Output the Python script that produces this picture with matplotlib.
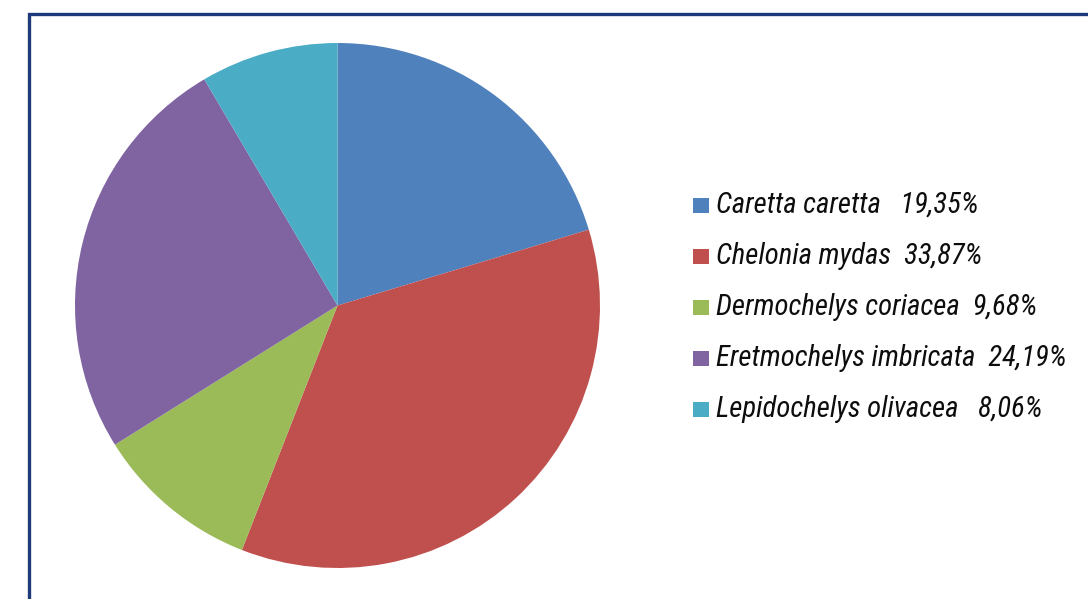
import matplotlib
matplotlib.use("Agg")
import matplotlib.pyplot as plt
from matplotlib.patches import Rectangle

species = ["Caretta caretta", "Chelonia mydas", "Dermochelys coriacea",
           "Eretmochelys imbricata", "Lepidochelys olivacea"]
percent = [19.35, 33.87, 9.68, 24.19, 8.06]
label_text = ["Caretta caretta   19,35%", "Chelonia mydas  33,87%",
              "Dermochelys coriacea  9,68%", "Eretmochelys imbricata  24,19%",
              "Lepidochelys olivacea   8,06%"]
colors = ["#4F81BD", "#C0504D", "#9BBB59", "#8064A2", "#4BACC6"]

W, H = 1088, 599
fig = plt.figure(figsize=(W / 100, H / 100), dpi=100)
fig.patch.set_facecolor("white")

# frame border (extends off right and bottom)
border_ax = fig.add_axes([0, 0, 1, 1])
border_ax.set_xlim(0, W)
border_ax.set_ylim(H, 0)
border_ax.axis("off")
border_ax.plot([28.5, 28.5, W + 5], [H + 5, 14, 14], color="#1F3A7A", lw=2.4,
               solid_joinstyle="miter")

# pie
cx, cy, r = 337.5, 305.5, 262.5
ax = fig.add_axes([(cx - r) / W, 1 - (cy + r) / H, 2 * r / W, 2 * r / H])
ax.pie(percent, colors=colors, startangle=90, counterclock=False,
       wedgeprops=dict(linewidth=0), radius=1)
ax.set_xlim(-1, 1)
ax.set_ylim(-1, 1)
ax.set_aspect("equal")
ax.axis("off")

# legend
baselines = [213, 264, 315, 366, 417]
for i, txt in enumerate(label_text):
    yb = baselines[i]
    border_ax.add_patch(Rectangle((692.5, yb - 15), 16.5, 15, facecolor=colors[i],
                                  edgecolor="none"))
    border_ax.text(716, yb, txt, fontsize=20.7, style="italic",
                   family=["Roboto Condensed", "Archivo Narrow", "DejaVu Sans"],
                   va="baseline", ha="left", color="#0d0d0d")

fig.savefig("out.png", dpi=100, facecolor="white")
